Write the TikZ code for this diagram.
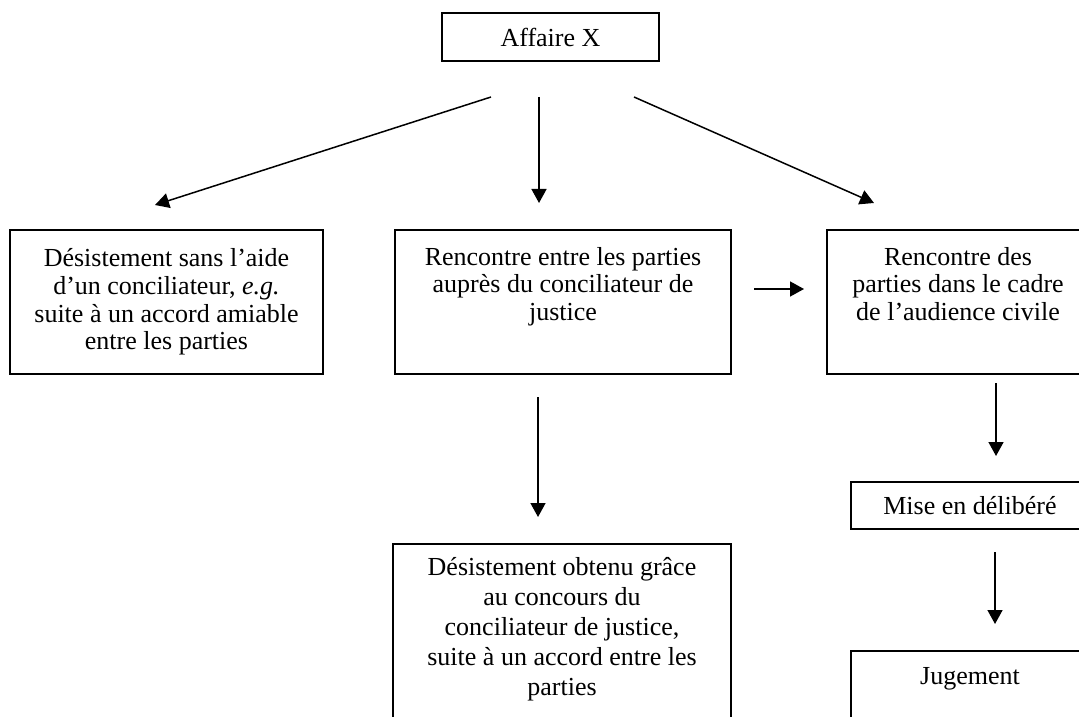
\documentclass[tikz,border=0pt]{standalone}
\usepackage{fontspec}
\setmainfont{Liberation Serif}
\usetikzlibrary{arrows.meta}
\begin{document}
\begin{tikzpicture}[x=0.5pt,y=-0.5pt,
        boite/.style={draw, line width=0.8pt, align=center, inner sep=0pt, font=\fontsize{13}{13.9}\selectfont},
        fleche/.style={line width=0.75pt, -{Triangle[length=7pt,width=7.5pt]}}]
        \useasboundingbox (0,0) rectangle (1079,716);
        \clip (0,0) rectangle (1079,716);
        \node[boite, minimum width=108.5pt, minimum height=24pt] (affaire) at (550.5,37) {Affaire X};
        \node[boite, minimum width=156.5pt, minimum height=72pt] (sans) at (166.5,302) {D\'esistement sans l’aide\\d’un conciliateur, \textit{e.g.}\\suite \`a un accord amiable\\entre les parties};
        \node[boite, minimum width=168pt, minimum height=72pt] (conciliation) at (563,302) {Rencontre entre les parties\\aupr\`es du conciliateur de\\justice\\\strut};
        \node[boite, minimum width=131pt, minimum height=72pt] (audience) at (958,302) {Rencontre des\\parties dans le cadre\\de l’audience civile\\\strut};
        \node[boite, minimum width=119pt, minimum height=23.5pt] (delibere) at (970,505.5) {Mise en d\'elib\'er\'e};
        \node[boite, anchor=north, minimum width=119pt, text height=10pt, text depth=40pt, inner ysep=7pt] (jugement) at (970,650) {Jugement};
        \node[boite, anchor=north, minimum width=169pt, inner ysep=7pt, font=\fontsize{13}{15}\selectfont] (grace) at (562,543) {D\'esistement obtenu gr\^ace\\au concours du\\conciliateur de justice,\\suite \`a un accord entre les\\parties\\\strut};
        \coordinate (affG) at (491,97);
        \coordinate (affM) at (539,97);
        \coordinate (affD) at (634,97);
        \coordinate (sansH) at (155,205);
        \coordinate (concH) at (539,203);
        \coordinate (audH) at (874,203);
        \coordinate (concD) at (754,289);
        \coordinate (audG) at (804,289);
        \coordinate (concB) at (538,397);
        \coordinate (graceH) at (538,517);
        \coordinate (audB) at (996,383);
        \coordinate (delH) at (996,456);
        \coordinate (delB) at (995,552);
        \coordinate (jugH) at (995,624);
        \draw[fleche] (affG) -- (sansH);
        \draw[fleche] (affM) -- (concH);
        \draw[fleche] (affD) -- (audH);
        \draw[fleche] (concD) -- (audG);
        \draw[fleche] (concB) -- (graceH);
        \draw[fleche] (audB) -- (delH);
        \draw[fleche] (delB) -- (jugH);
    \end{tikzpicture}
\end{document}
